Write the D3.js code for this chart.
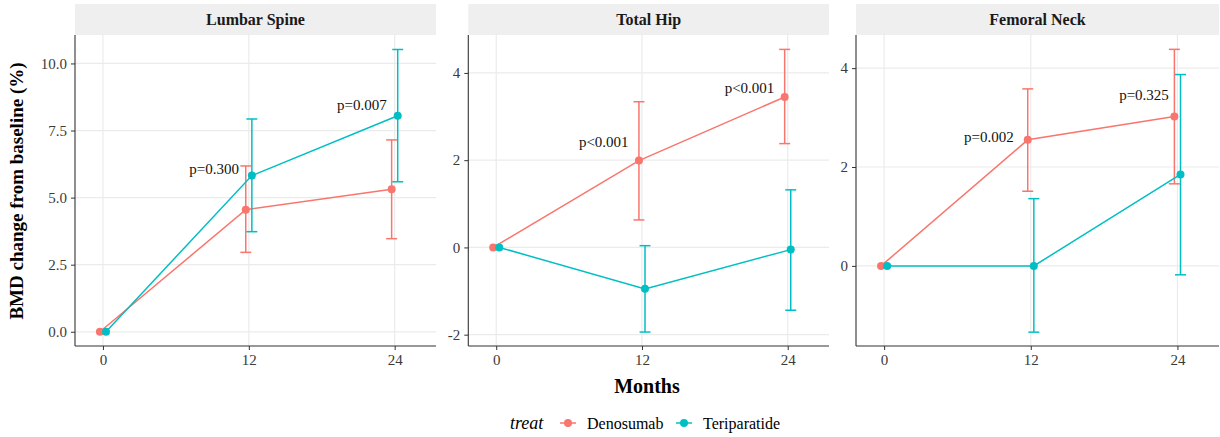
<!DOCTYPE html>
<html>
<head>
<meta charset="utf-8">
<script src="https://cdn.jsdelivr.net/npm/d3@7"></script>
<style>
  body { margin: 0; background: #fff; }
  svg, svg text { font-family: "Liberation Serif", "DejaVu Serif", serif; }
  svg { display: block; }
  .tick text { fill: #3a3a3a; font-size: 15px; }
</style>
</head>
<body>
<svg id="chart" width="1220" height="437"></svg>
<script>
// Data: mean % change and error bar limits per site.
const months = [0, 12, 24];
const sites = ["Lumbar Spine", "Total Hip", "Femoral Neck"];
const treats = ["Denosumab", "Teriparatide"];
const colors = ["#F8766D", "#00BFC4"];

const denoMean = [[0, 4.55, 5.31], [0, 1.99, 3.45], [0, 2.55, 3.02]];
const denoLow  = [[0, 2.96, 3.47], [0, 0.63, 2.38], [0, 1.51, 1.66]];
const denoHigh = [[0, 6.18, 7.15], [0, 3.34, 4.54], [0, 3.58, 4.38]];

const teriMean = [[0, 5.82, 8.05], [0, -0.95, -0.05], [0, 0.00, 1.85]];
const teriLow  = [[0, 3.73, 5.59], [0, -1.94, -1.44], [0, -1.34, -0.18]];
const teriHigh = [[0, 7.93, 10.52], [0, 0.04, 1.32], [0, 1.36, 3.87]];

// p-value labels: text, month (right end of text), y value (text centre)
const pText = [["p=0.300", "p=0.007"], ["p<0.001", "p<0.001"], ["p=0.002", "p=0.325"]];
const pMonth = [[11.2, 23.35], [10.9, 22.9], [10.6, 23.3]];
const pValue = [[6.06, 8.47], [2.42, 3.65], [2.61, 3.46]];

const yDomains = [[-0.53, 11.06], [-2.26, 4.87], [-1.62, 4.67]];
const yTicks = [[0, 2.5, 5, 7.5, 10], [-2, 0, 2, 4], [0, 2, 4]];
const yFormats = [".1f", "d", "d"];

// Layout
const panelLeft = [75, 468.3, 856];
const panelRight = [436, 829, 1219];
const stripTop = 4, panelTop = 35, panelBottom = 346;
const dodge = 0.25, capHalf = 0.45;

const svg = d3.select("#chart");

for (let p = 0; p < sites.length; p++) {
	let x = d3.scaleLinear().domain([-2.3, 27.4]).range([panelLeft[p], panelRight[p]]);
	let y = d3.scaleLinear().domain(yDomains[p]).range([panelBottom, panelTop]);
	let g = svg.append("g");

	// strip
	g.append("rect")
		.attr("x", panelLeft[p]).attr("y", stripTop)
		.attr("width", panelRight[p] - panelLeft[p]).attr("height", panelTop - stripTop)
		.attr("fill", "#EFEFEF");
	g.append("text")
		.attr("x", (panelLeft[p] + panelRight[p]) / 2).attr("y", (stripTop + panelTop) / 2)
		.attr("dy", "0.35em").attr("text-anchor", "middle")
		.attr("font-weight", "bold").attr("font-size", 16).attr("fill", "#1a1a1a")
		.text(sites[p]);

	// grid
	g.selectAll(".hgrid").data(yTicks[p]).enter().append("line")
		.attr("x1", panelLeft[p]).attr("x2", panelRight[p])
		.attr("y1", d => y(d)).attr("y2", d => y(d))
		.attr("stroke", "#EBEBEB").attr("stroke-width", 1.2);
	g.selectAll(".vgrid").data(months).enter().append("line")
		.attr("y1", panelTop).attr("y2", panelBottom)
		.attr("x1", d => x(d)).attr("x2", d => x(d))
		.attr("stroke", "#EBEBEB").attr("stroke-width", 1.2);

	// axes (plain hyphen for negatives, like the original)
	let fmt = d3.format(yFormats[p]);
	let xAxis = g.append("g")
		.attr("transform", "translate(0," + panelBottom + ")")
		.call(d3.axisBottom(x).tickValues(months).tickSize(4).tickPadding(4));
	let yAxis = g.append("g")
		.attr("transform", "translate(" + panelLeft[p] + ",0)")
		.call(d3.axisLeft(y).tickValues(yTicks[p]).tickFormat(d => fmt(d).replace("\u2212", "-")).tickSize(4).tickPadding(4));
	[xAxis, yAxis].forEach(a => {
		a.attr("font-family", null).attr("font-size", null);
		a.select(".domain").attr("stroke", "#333").attr("stroke-width", 1.1);
		a.selectAll(".tick line").attr("stroke", "#333");
	});
	xAxis.select(".domain").attr("d", "M" + panelLeft[p] + ",0H" + panelRight[p]);
	yAxis.select(".domain").attr("d", "M0," + panelTop + "V" + panelBottom);

	let series = [
		{ mean: denoMean[p], low: denoLow[p], high: denoHigh[p], off: -dodge, color: colors[0] },
		{ mean: teriMean[p], low: teriLow[p], high: teriHigh[p], off: dodge, color: colors[1] }
	];

	series.forEach(s => {
		let pts = months.map((m, i) => ({ m: m + s.off, v: s.mean[i], lo: s.low[i], hi: s.high[i] }));

		g.append("path")
			.datum(pts)
			.attr("fill", "none").attr("stroke", s.color).attr("stroke-width", 1.5)
			.attr("d", d3.line().x(d => x(d.m)).y(d => y(d.v)));

		let bars = pts.filter(d => d.hi !== d.lo);
		let eb = g.append("g").attr("stroke", s.color).attr("stroke-width", 1.5);
		eb.selectAll(".v").data(bars).enter().append("line")
			.attr("x1", d => x(d.m)).attr("x2", d => x(d.m))
			.attr("y1", d => y(d.lo)).attr("y2", d => y(d.hi));
		eb.selectAll(".t").data(bars).enter().append("line")
			.attr("x1", d => x(d.m - capHalf)).attr("x2", d => x(d.m + capHalf))
			.attr("y1", d => y(d.hi)).attr("y2", d => y(d.hi));
		eb.selectAll(".b").data(bars).enter().append("line")
			.attr("x1", d => x(d.m - capHalf)).attr("x2", d => x(d.m + capHalf))
			.attr("y1", d => y(d.lo)).attr("y2", d => y(d.lo));

		g.selectAll(".pt").data(pts).enter().append("circle")
			.attr("cx", d => x(d.m)).attr("cy", d => y(d.v))
			.attr("r", 4).attr("fill", s.color);
	});

	// p-value labels
	for (let k = 0; k < 2; k++) {
		g.append("text")
			.attr("x", x(pMonth[p][k])).attr("y", y(pValue[p][k]))
			.attr("dy", "0.35em").attr("text-anchor", "end")
			.attr("font-size", 15).attr("fill", "#111")
			.text(pText[p][k]);
	}
}

// axis titles
svg.append("text")
	.attr("transform", "translate(23,191) rotate(-90)")
	.attr("text-anchor", "middle").attr("font-weight", "bold").attr("font-size", 19)
	.text("BMD change from baseline (%)");
svg.append("text")
	.attr("x", 647).attr("y", 386).attr("dy", "0.35em")
	.attr("text-anchor", "middle").attr("font-weight", "bold").attr("font-size", 20)
	.text("Months");

// legend
let legend = svg.append("g").attr("transform", "translate(0,423)");
legend.append("text")
	.attr("x", 510).attr("dy", "0.35em").attr("font-style", "italic").attr("font-size", 18)
	.text("treat");
let keyX = [568, 684];
treats.forEach((t, i) => {
	legend.append("line")
		.attr("x1", keyX[i] - 8).attr("x2", keyX[i] + 8)
		.attr("stroke", colors[i]).attr("stroke-width", 1.5);
	legend.append("circle").attr("cx", keyX[i]).attr("r", 4).attr("fill", colors[i]);
	legend.append("text")
		.attr("x", keyX[i] + 19).attr("dy", "0.35em").attr("font-size", 16)
		.text(t);
});
</script>
</body>
</html>
